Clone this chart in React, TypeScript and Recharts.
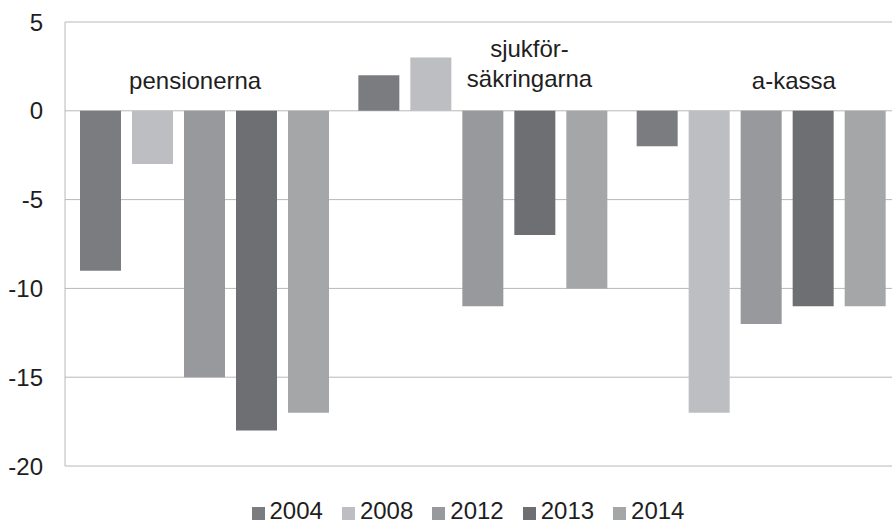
import React from 'react';
import { BarChart, Bar, XAxis, YAxis, CartesianGrid, Legend } from 'recharts';

const categories = ['pensionerna', 'sjukförsäkringarna', 'a-kassa'];
const categoryLabelLines = [['pensionerna'], ['sjukför-', 'säkringarna'], ['a-kassa']];
const years = ['2004', '2008', '2012', '2013', '2014'];
const values2004 = [-9, 2, -2];
const values2008 = [-3, 3, -17];
const values2012 = [-15, -11, -12];
const values2013 = [-18, -7, -11];
const values2014 = [-17, -10, -11];
const yTicks = [-20, -15, -10, -5, 0, 5];

const seriesValues = [values2004, values2008, values2012, values2013, values2014];
const colors = ['#7b7c7f', '#bdbec1', '#98999c', '#6e6f72', '#a5a6a8'];

// label layout (text placement inside the plot, as in the reference)
const labelDx = [-9, 47, 33];
const labelBaselines = [[89], [57, 87], [89]];

const FONT = '"Liberation Sans", Arial, sans-serif';
const TEXT = '#1e1e1e';
const GRID = '#b8b8b8';

const data = categories.map((c, i) => {
  const row: Record<string, string | number> = { name: c };
  years.forEach((y, j) => {
    row[y] = seriesValues[j][i];
  });
  return row;
});

const CategoryTick = (props: any) => {
  const { x, payload } = props;
  const idx = categories.indexOf(payload.value);
  const lines = categoryLabelLines[idx] || [payload.value];
  return (
    <g>
      {lines.map((l: string, k: number) => (
        <text
          key={k}
          x={x + labelDx[idx]}
          y={labelBaselines[idx][k]}
          textAnchor="middle"
          fontSize={24}
          fontFamily={FONT}
          fill={TEXT}
        >
          {l}
        </text>
      ))}
    </g>
  );
};

const LegendContent = () => (
  <div
    style={{
      display: 'flex',
      justifyContent: 'center',
      alignItems: 'center',
      height: 24,
      lineHeight: '24px',
      fontFamily: FONT,
      fontSize: 24,
      color: TEXT,
    }}
  >
    {years.map((y, j) => (
      <div key={y} style={{ display: 'flex', alignItems: 'center', marginRight: j < years.length - 1 ? 19 : 0 }}>
        <span
          style={{
            display: 'inline-block',
            width: 13,
            height: 13,
            background: colors[j],
            marginRight: 5,
            marginTop: 5,
          }}
        />
        <span>{y}</span>
      </div>
    ))}
  </div>
);

export default function App() {
  return (
    <div
      style={{
        position: 'absolute',
        left: 0,
        top: 0,
        width: 892,
        height: 523,
        overflow: 'hidden',
        background: '#fff',
      }}
    >
      <BarChart
        width={936}
        height={523}
        data={data}
        margin={{ top: 0, right: 36, left: 0, bottom: 33 }}
        barGap={11}
      >
        <CartesianGrid horizontal vertical={false} stroke={GRID} strokeWidth={1} />
        <XAxis
          dataKey="name"
          orientation="top"
          height={22}
          axisLine={false}
          tickLine={false}
          interval={0}
          tick={CategoryTick}
        />
        <YAxis
          width={65}
          domain={[-20, 5]}
          ticks={yTicks}
          interval={0}
          tickLine={false}
          tickMargin={16}
          axisLine={{ stroke: GRID, strokeWidth: 1 }}
          tick={{ fontSize: 24, fontFamily: FONT, fill: TEXT }}
        />
        {years.map((y, j) => (
          <Bar key={y} dataKey={y} fill={colors[j]} barSize={41} isAnimationActive={false} />
        ))}
        <Legend
          verticalAlign="bottom"
          content={<LegendContent />}
          wrapperStyle={{ bottom: 0, left: 0, width: 936, height: 24 }}
        />
      </BarChart>
    </div>
  );
}
